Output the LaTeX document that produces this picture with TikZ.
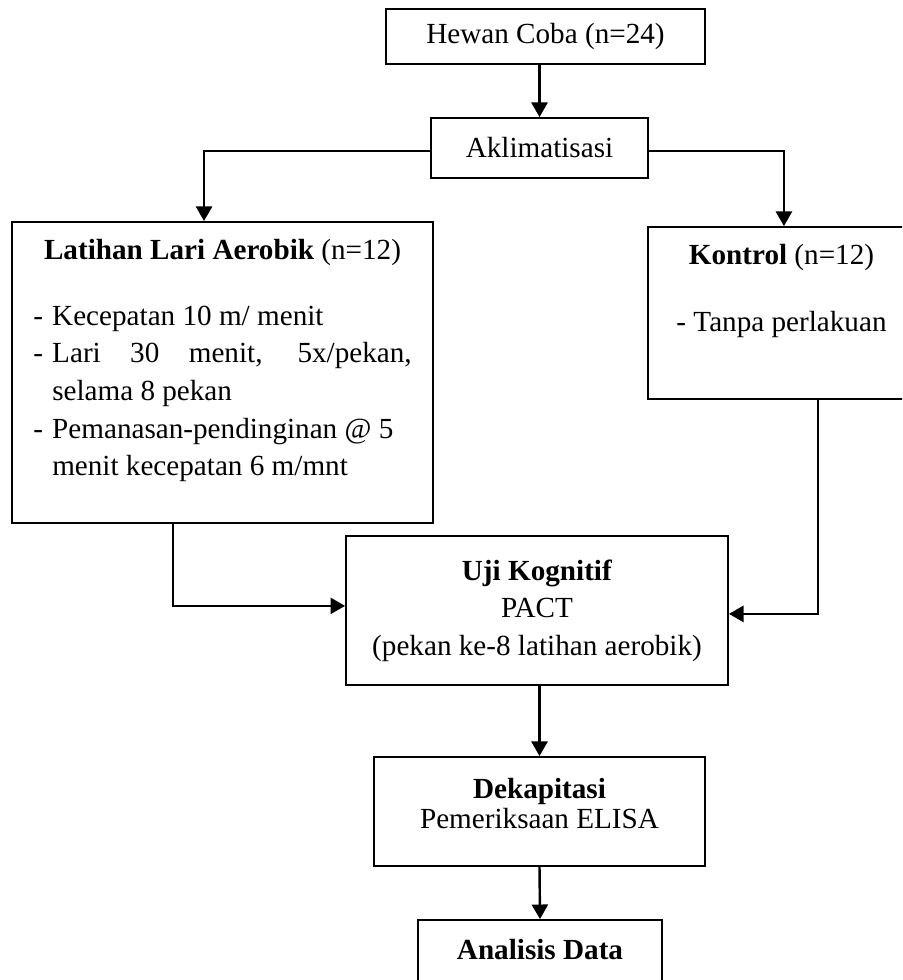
\documentclass[tikz,border=0pt]{standalone}
\usepackage{fontspec}
\setmainfont{Liberation Serif}
\usetikzlibrary{arrows.meta}
\newcommand\myitem[1]{\makebox[7.8pt][l]{-}\makebox[147.9pt][l]{#1}}
\newcommand\myjust[1]{\makebox[7.8pt][l]{-}\makebox[147.9pt][s]{#1}}
\newcommand\mycont[1]{\hspace*{7.8pt}\makebox[147.9pt][l]{#1}}
\tikzset{
  box/.style={draw, line width=0.75pt, rectangle, inner sep=0pt, align=center,
    font=\fontsize{12}{15.5}\selectfont},
  arr/.style={line width=1pt, -{Triangle[length=6pt,width=6.6pt]}},
  ln/.style={line width=1pt}
}
\begin{document}
\begin{tikzpicture}[x=0.4115pt,y=-0.4115pt]
\clip (0,0) rectangle (902,980);
\fill[white] (0,0) rectangle (902,980);
\node[box, minimum width=131.3pt, minimum height=22.6pt] (hewan) at (545.5,36.5) {Hewan Coba (n=24)};
\node[box, minimum width=89.3pt, minimum height=24.7pt] (akl) at (539.5,148) {Aklimatisasi};
\node[box, minimum width=173.2pt, minimum height=123.9pt] (lat) at (222.5,372.5)
  {\textbf{Latihan Lari Aerobik} (n=12)\\[11.7pt]
   \myitem{Kecepatan 10 m/ menit}\\
   \myjust{Lari 30 menit, 5x/pekan,}\\
   \mycont{selama 8 pekan}\\
   \myitem{Pemanasan-pendinginan @ 5}\\
   \mycont{menit kecepatan 6 m/mnt}\\[-3pt]\mbox{}};
\node[box, minimum width=109.9pt, minimum height=70.8pt] (kon) at (781.5,313)
  {\textbf{Kontrol} (n=12)\\[12pt]- Tanpa perlakuan\\[5.4pt]\mbox{}};
\node[box, minimum width=157.2pt, minimum height=61.3pt] (uji) at (537,610.5)
  {\textbf{Uji Kognitif}\\PACT\\(pekan ke-8 latihan aerobik)};
\node[box, minimum width=136.2pt, minimum height=44.9pt,
  font=\fontsize{12}{12.5}\selectfont] (dek) at (539.5,811.5)
  {\textbf{Dekapitasi}\\Pemeriksaan ELISA\\[-5.9pt]\mbox{}};
\node[box, minimum width=100.4pt, minimum height=28.8pt] (ana) at (540,955)
  {\raisebox{5pt}{\textbf{Analisis Data}}};
% connectors
\draw[arr] (akl.north |- hewan.south) -- (akl.north);
\draw[arr] ([yshift=-1.2pt]akl.west) -| ([xshift=-7.6pt]lat.north);
\draw[arr] ([yshift=-1.2pt]akl.east) -| ([xshift=1pt]kon.north);
\draw[arr] ([xshift=-20.4pt]lat.south) |- ([yshift=1.9pt]uji.west);
\draw[arr] ([xshift=15pt]kon.south) |- ([yshift=-1.4pt]uji.east);
\draw[arr] (uji.south -| dek.north) -- (dek.north);
\draw[arr] (dek.south) -- (ana.north);
\end{tikzpicture}
\end{document}
